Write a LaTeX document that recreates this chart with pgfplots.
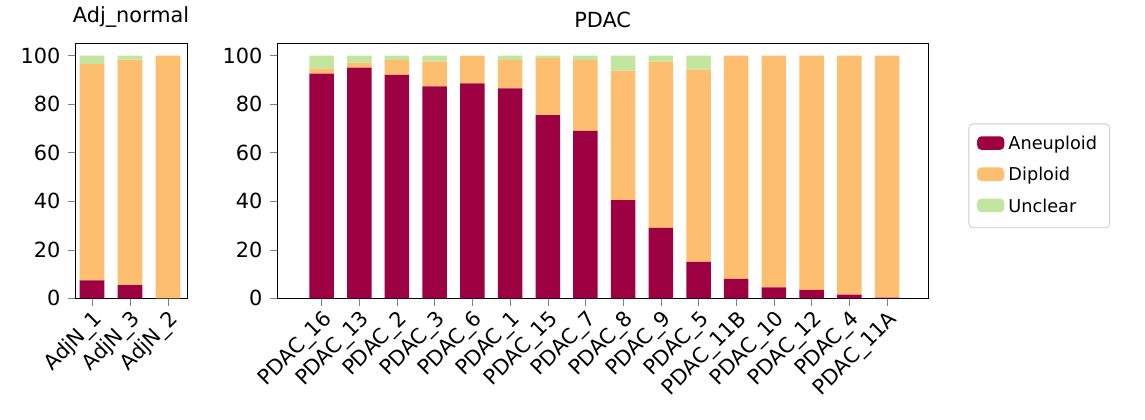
\documentclass[border=0pt]{standalone}
\usepackage{pgfplots}
\pgfplotsset{compat=1.18}
\usepackage{fontspec}
\setmainfont{DejaVu Sans}
\definecolor{an}{HTML}{9E0142}
\definecolor{di}{HTML}{FDBF6F}
\definecolor{un}{HTML}{C2E5A0}
\pgfplotsset{common/.style={scale only axis, ybar stacked, bar width=0.65, ymin=0, ymax=105,
 ytick={0,20,...,100}, tick align=outside, tick pos=left, xtick=data,
 /pgf/number format/assume math mode=true, tick label style={font=\fontsize{10}{12}\selectfont},
 xticklabel style={rotate=45, anchor=north east, inner sep=1pt},
 title style={font=\fontsize{10}{12}\selectfont, yshift=-2pt},
 axis line style={black}, major tick length=3.5pt,
 every axis plot/.append style={draw=none}}}
\begin{document}
\begin{tikzpicture}
\path (0,0) rectangle (549.6pt,201.1pt);
\begin{axis}[common, at={(36pt,58.1pt)}, width=53.8pt, height=122.4pt, title={Adj\_normal},
 xmin=-0.45, xmax=2.5, xticklabels={AdjN\_1,AdjN\_3,AdjN\_2}]
\addplot[fill=an] coordinates {(0,7.4) (1,5.5) (2,0)};
\addplot[fill=di] coordinates {(0,89.1) (1,92.8) (2,100)};
\addplot[fill=un] coordinates {(0,3.5) (1,1.7) (2,0)};
\end{axis}
\begin{axis}[common, at={(133pt,58.1pt)}, width=312.5pt, height=122.4pt, title={PDAC},
 xmin=-1.18, xmax=16.09,
 xticklabels={PDAC\_16,PDAC\_13,PDAC\_2,PDAC\_3,PDAC\_6,PDAC\_1,PDAC\_15,PDAC\_7,PDAC\_8,PDAC\_9,PDAC\_5,PDAC\_11B,PDAC\_10,PDAC\_12,PDAC\_4,PDAC\_11A},
 legend style={at={(1.062,0.686)}, anchor=north west, draw=black!20, rounded corners=2pt,
 font=\fontsize{8.5}{10}\selectfont, row sep=3pt, cells={anchor=west}, inner xsep=4pt, inner ysep=4pt},
 legend cell align=left,
 legend image code/.code={\fill[#1] (0pt,-2.5pt) rectangle (13pt,4pt);}]
\addplot[fill=an] coordinates {(0,92.5) (1,95) (2,92) (3,87.3) (4,88.5) (5,86.5) (6,75.5) (7,69) (8,40.5) (9,29) (10,15) (11,8) (12,4.5) (13,3.5) (14,1.5) (15,0.3)};
\addplot[fill=di] coordinates {(0,2.2) (1,2.1) (2,6.1) (3,10.2) (4,11.2) (5,11.6) (6,23.4) (7,29.1) (8,53.3) (9,68.5) (10,79.2) (11,92) (12,95.5) (13,96.5) (14,98.5) (15,99.7)};
\addplot[fill=un] coordinates {(0,5.3) (1,2.9) (2,1.9) (3,2.5) (4,0.3) (5,1.9) (6,1.1) (7,1.9) (8,6.2) (9,2.5) (10,5.8) (11,0) (12,0) (13,0) (14,0) (15,0)};
\legend{Aneuploid,Diploid,Unclear}
\end{axis}
\end{tikzpicture}
\end{document}
